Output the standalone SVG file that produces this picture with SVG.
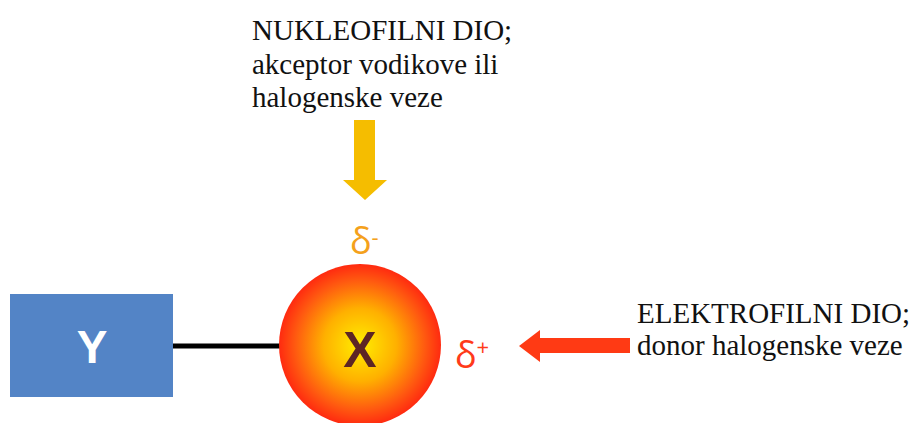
<svg xmlns="http://www.w3.org/2000/svg" width="914" height="423" viewBox="0 0 914 423">
  <style>
    .label { font-family: "Liberation Serif", "Times New Roman", serif; font-size: 29px; fill: #111; }
    .delta { font-family: "Open Sans", "Liberation Sans", Arial, sans-serif; font-size: 36px; }
    .sup { font-size: 22px; }
    .glyph { font-family: "Liberation Sans", Arial, sans-serif; font-weight: bold; text-anchor: middle; }
  </style>
  <defs>
    <radialGradient id="atomFill" cx="0.5" cy="0.5" r="0.5">
      <stop offset="0" stop-color="#ffee00"/>
      <stop offset="0.45" stop-color="#ffb000"/>
      <stop offset="0.8" stop-color="#ff5a10"/>
      <stop offset="1" stop-color="#ff2a10"/>
    </radialGradient>
  </defs>

  <!-- bond between Y and X -->
  <g id="connectors">
    <line x1="172" y1="346" x2="282" y2="346" stroke="#000" stroke-width="5"/>
  </g>

  <!-- substituent Y -->
  <g id="node-y">
    <rect x="10" y="294" width="163" height="103" fill="#5384c6"/>
    <text class="glyph" x="92" y="363" font-size="46" fill="#fff">Y</text>
  </g>

  <!-- halogen atom X -->
  <g id="node-x">
    <circle cx="360" cy="345" r="81" fill="url(#atomFill)"/>
    <text class="glyph" x="360" y="367" font-size="50" fill="#5c2525">X</text>
  </g>

  <!-- partial charges -->
  <g id="charge-minus">
    <text class="delta" x="350" y="254" fill="#f4a11c">δ<tspan class="sup" dy="-9">-</tspan></text>
  </g>
  <g id="charge-plus">
    <text class="delta" x="455" y="368" fill="#ff3a1a">δ<tspan class="sup" dy="-13">+</tspan></text>
  </g>

  <!-- nucleophilic region: arrow and label -->
  <g id="nucleophilic">
    <polygon points="354,120 375,120 375,180 387,180 365,200 343,180 354,180" fill="#f5bd00"/>
    <text class="label" x="252" y="40">NUKLEOFILNI DIO;</text>
    <text class="label" x="252" y="74">akceptor vodikove ili</text>
    <text class="label" x="252" y="107">halogenske veze</text>
  </g>

  <!-- electrophilic region: arrow and label -->
  <g id="electrophilic">
    <polygon points="630,338 540,338 540,330 519,346 540,362 540,353 630,353" fill="#ff3a14"/>
    <text class="label" x="637" y="323">ELEKTROFILNI DIO;</text>
    <text class="label" x="637" y="355">donor halogenske veze</text>
  </g>
</svg>
